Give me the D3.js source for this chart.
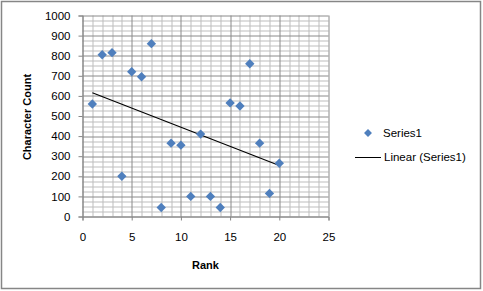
<!DOCTYPE html>
<html>
<head>
<meta charset="utf-8">
<script src="https://cdn.jsdelivr.net/npm/d3@7"></script>
<style>
  body { margin: 0; background: #fff; }
  svg { display: block; font-family: 'Liberation Sans', Arial, sans-serif; }
  .tick text { font-size: 11.5px; fill: #000; }
  .axis-title { font-size: 11px; font-weight: bold; fill: #000; }
</style>
</head>
<body>
<svg id="chart" width="483" height="291"></svg>
<script>
// DATA
const ranks = [1, 2, 3, 4, 5, 6, 7, 8, 9, 10, 11, 12, 13, 14, 15, 16, 17, 18, 19, 20];
const charCounts = [560, 805, 815, 200, 720, 695, 860, 45, 365, 355, 100, 410, 100, 45, 565, 550, 760, 365, 115, 265];
const xTicks = [0, 5, 10, 15, 20, 25];
const yTicks = [0, 100, 200, 300, 400, 500, 600, 700, 800, 900, 1000];
const seriesName = 'Series1';
const trendName = 'Linear (Series1)';

// SETUP
let svg = d3.select('svg'),
  margin = { top: 15.5, left: 82.5 },
  plotW = 246,
  plotH = 201,
  x = d3.scaleLinear().domain([0, 25]).range([0, plotW]),
  y = d3.scaleLinear().domain([0, 1000]).range([plotH, 0]);

const data = ranks.map((r, i) => ({ rank: r, value: charCounts[i] }));

// chart border
svg.append('rect')
  .attr('x', 1.5).attr('y', 1.5)
  .attr('width', 479).attr('height', 287)
  .attr('fill', '#fff')
  .attr('stroke', '#868686')
  .attr('stroke-width', 1.5);

let g = svg.append('g')
  .attr('transform', 'translate(' + margin.left + ',' + margin.top + ')');

// MINOR GRID
g.append('g').selectAll('line')
  .data(d3.range(0, 1000.1, 25).filter(v => v % 100 !== 0))
  .enter().append('line')
  .attr('x1', 0).attr('x2', plotW)
  .attr('y1', d => Math.round(y(d)) + 0.5).attr('y2', d => Math.round(y(d)) + 0.5)
  .attr('stroke', '#bdbdbd');
g.append('g').selectAll('line')
  .data(d3.range(0, 25.1, 1).filter(v => v % 5 !== 0))
  .enter().append('line')
  .attr('y1', 0).attr('y2', plotH)
  .attr('x1', d => Math.round(x(d)) + 0.5).attr('x2', d => Math.round(x(d)) + 0.5)
  .attr('stroke', '#bdbdbd');

// MAJOR GRID
g.append('g').selectAll('line')
  .data(yTicks)
  .enter().append('line')
  .attr('x1', 0).attr('x2', plotW)
  .attr('y1', d => Math.round(y(d)) + 0.5).attr('y2', d => Math.round(y(d)) + 0.5)
  .attr('stroke', '#8a8a8a');
g.append('g').selectAll('line')
  .data(xTicks)
  .enter().append('line')
  .attr('y1', 0).attr('y2', plotH)
  .attr('x1', d => Math.round(x(d)) + 0.5).attr('x2', d => Math.round(x(d)) + 0.5)
  .attr('stroke', '#8a8a8a');

// AXES
g.append('g')
  .attr('class', 'axis axis--x')
  .attr('transform', 'translate(0,' + plotH + ')')
  .call(d3.axisBottom(x).tickValues(xTicks).tickFormat(d3.format('d')).tickSize(4).tickPadding(12))
  .call(a => a.selectAll('line, path').attr('stroke', '#868686'));
g.append('g')
  .attr('class', 'axis axis--y')
  .call(d3.axisLeft(y).tickValues(yTicks).tickFormat(d3.format('d')).tickSize(4).tickPadding(8))
  .call(a => a.selectAll('line, path').attr('stroke', '#868686'));

// AXIS TITLES
svg.append('text')
  .attr('class', 'axis-title')
  .attr('text-anchor', 'middle')
  .attr('x', margin.left + plotW / 2)
  .attr('y', 269)
  .text('Rank');
svg.append('text')
  .attr('class', 'axis-title')
  .attr('text-anchor', 'middle')
  .attr('transform', 'translate(31,117) rotate(-90)')
  .text('Character Count');

// TREND LINE (least squares)
const mx = d3.mean(data, d => d.rank),
  my = d3.mean(data, d => d.value),
  slope = d3.sum(data, d => (d.rank - mx) * (d.value - my)) / d3.sum(data, d => (d.rank - mx) ** 2),
  icpt = my - slope * mx;
const x0 = d3.min(ranks), x1 = d3.max(ranks);
g.append('line')
  .attr('x1', x(x0)).attr('y1', y(icpt + slope * x0))
  .attr('x2', x(x1)).attr('y2', y(icpt + slope * x1))
  .attr('stroke', '#000')
  .attr('stroke-width', 1.1);

// MARKERS
const diamond = d3.symbol().type(d3.symbolDiamond2).size(56);
g.selectAll('.pt')
  .data(data)
  .enter().append('path')
  .attr('class', 'pt')
  .attr('d', diamond)
  .attr('transform', d => 'translate(' + x(d.rank) + ',' + y(d.value) + ')')
  .attr('fill', '#4f7fbd');

// LEGEND
const lg = svg.append('g');
lg.append('path')
  .attr('d', d3.symbol().type(d3.symbolDiamond2).size(40))
  .attr('transform', 'translate(368,133)')
  .attr('fill', '#4f7fbd');
lg.append('text')
  .attr('x', 383).attr('y', 137)
  .style('font-size', '11.5px')
  .text(seriesName);
lg.append('line')
  .attr('x1', 355).attr('x2', 381)
  .attr('y1', 157.5).attr('y2', 157.5)
  .attr('stroke', '#000');
lg.append('text')
  .attr('x', 384).attr('y', 161)
  .style('font-size', '11.5px')
  .text(trendName);
</script>
</body>
</html>
